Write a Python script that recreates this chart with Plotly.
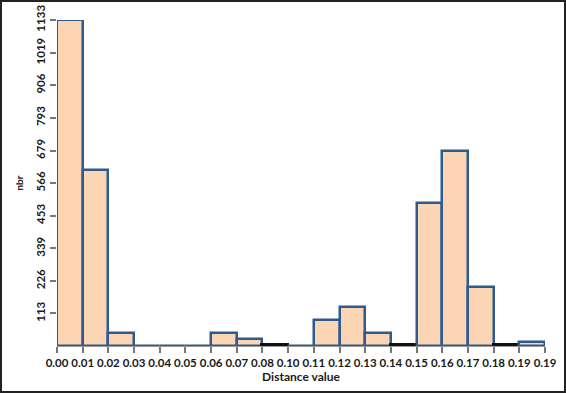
import plotly.graph_objects as go

# Tick labels at bin edges (as printed on the original chart)
edge_labels = ["0.00", "0.01", "0.02", "0.03", "0.04", "0.05", "0.06", "0.07", "0.08", "0.10",
               "0.11", "0.12", "0.13", "0.14", "0.15", "0.16", "0.17", "0.18", "0.19", "0.19"]
# Counts per bin (between consecutive edges)
counts = [1133, 612, 46, 0, 0, 0, 46, 23, 3, 0,
          90, 137, 46, 4, 498, 679, 205, 4, 13]
y_ticks = [113, 226, 339, 453, 566, 679, 793, 906, 1019, 1133]

W, H = 566, 393
L, R, T, B = 57, 21, 20, 47

fill = "#FCD5B4"
edge = "#2E5A8E"
line_colors = ["#111111" if 0 < c < 10 else edge for c in counts]
line_widths = [3 if 0 < c < 10 else 2.5 for c in counts]

fig = go.Figure()
fig.add_trace(go.Bar(
    x=[i + 0.5 for i in range(len(counts))],
    y=counts,
    width=1,
    marker=dict(color=fill, line=dict(color=line_colors, width=line_widths)),
    showlegend=False,
))

font = dict(family="Lato, 'Open Sans', sans-serif", size=11.5, color="#1a1a1a")

fig.update_layout(
    width=W, height=H,
    margin=dict(l=L, r=R, t=T, b=B),
    paper_bgcolor="white", plot_bgcolor="white",
    bargap=0,
    font=font,
    xaxis=dict(
        range=[0, len(edge_labels) - 1],
        tickmode="array",
        tickvals=list(range(len(edge_labels))),
        ticktext=["<b>%s</b>" % s for s in edge_labels],
        tickangle=0,
        ticks="outside", ticklen=6, tickcolor="#777777", tickwidth=1.5,
        showline=True, linecolor="#999999", linewidth=1.2,
        showgrid=False, zeroline=False,
        title=dict(text="<b>Distance value</b>", standoff=3, font=dict(size=12)),
        automargin=False,
        fixedrange=True,
    ),
    yaxis=dict(
        range=[0, 1133],
        tickmode="array",
        tickvals=y_ticks,
        ticktext=["<b>%d</b>" % v for v in y_ticks],
        tickangle=-90,
        ticks="outside", ticklen=6, tickcolor="#777777", tickwidth=1.5,
        showline=False, showgrid=False, zeroline=False,
        title=dict(text="<b>nbr</b>", standoff=8, font=dict(size=10)),
        automargin=False,
        fixedrange=True,
    ),
)

# outer frame around the whole image
pw, ph = W - L - R, H - T - B
fig.add_shape(type="rect", xref="paper", yref="paper",
              x0=(-L + 1) / pw, x1=(pw + R - 1) / pw,
              y0=(-B + 1) / ph, y1=(ph + T - 1) / ph,
              line=dict(color="#222222", width=2), fillcolor="rgba(0,0,0,0)", layer="above")

fig.write_html("out.html", config={"displayModeBar": False},
               post_script="document.body.style.margin='0';document.body.style.overflow='hidden';")
